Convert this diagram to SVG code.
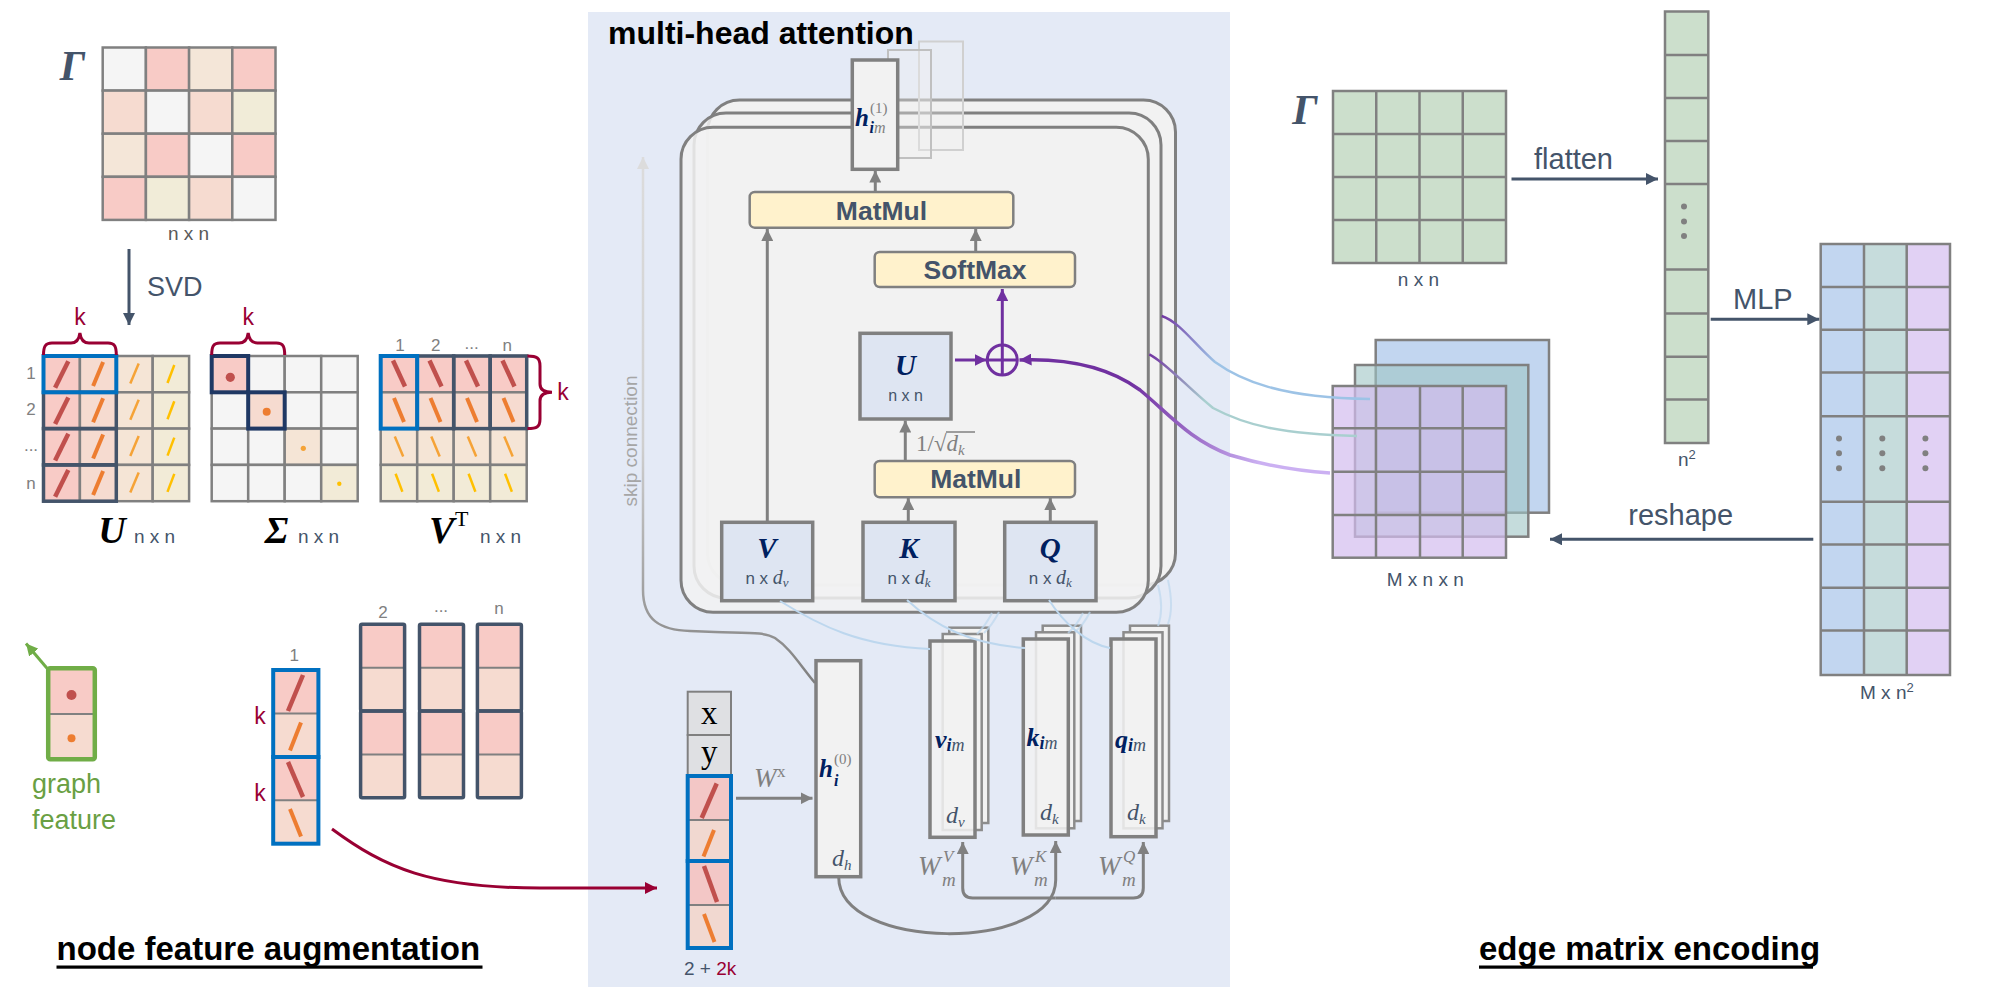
<svg xmlns="http://www.w3.org/2000/svg" width="2000" height="994" viewBox="0 0 2000 994">
<defs>
<style>
.sans{font-family:"Liberation Sans",Arial,sans-serif}
.serif{font-family:"Liberation Serif","Times New Roman",serif}
.grid{stroke:#808080;stroke-width:2.5}
.dim{font-family:"Liberation Sans",Arial,sans-serif;fill:#44546A;font-size:19px}
.idx{font-family:"Liberation Sans",Arial,sans-serif;fill:#808080;font-size:17px;text-anchor:middle}
.kl{font-family:"Liberation Sans",Arial,sans-serif;fill:#990033;font-size:23px;text-anchor:middle}
.brace{fill:none;stroke:#990033;stroke-width:3}
.navy{fill:none;stroke:#44546A;stroke-width:3.5}
.dnavy{fill:none;stroke:#1F3864;stroke-width:4}
.blue{fill:none;stroke:#0070C0;stroke-width:4}
.gbox{fill:#DEE5F2;stroke:#808080;stroke-width:3.5}
.ybox{fill:#FFF2CC;stroke:#808080;stroke-width:2.5}
.ytext{font-family:"Liberation Sans",Arial,sans-serif;font-weight:bold;font-size:26.5px;fill:#44546A;text-anchor:middle}
.arr{fill:none;stroke:#808080;stroke-width:3}
.narr{fill:none;stroke:#44546A;stroke-width:3}
.mb{font-family:"Liberation Serif","Times New Roman",serif;font-style:italic;font-weight:bold;fill:#002060}
.mi{font-family:"Liberation Serif","Times New Roman",serif;font-style:italic;fill:#44546A}
.mg{font-family:"Liberation Serif","Times New Roman",serif;font-style:italic;fill:#808080}
.big{font-family:"Liberation Serif","Times New Roman",serif;font-style:italic;font-weight:bold}
.op{font-family:"Liberation Sans",Arial,sans-serif;fill:#44546A;font-size:29px}
.title{font-family:"Liberation Sans",Arial,sans-serif;font-weight:bold;font-size:33px;fill:#000}
.lb{fill:none;stroke:#BDD7EE;stroke-width:2}
.head{fill:#F2F2F2;stroke:#808080;stroke-width:3}
.vec{fill:#F2F2F2;stroke:#808080;stroke-width:3.5}
.vecb{fill:#F2F2F2;stroke:#8C8C8C;stroke-width:2.5}
</style>
<marker id="mGray" viewBox="0 0 10 10" refX="10" refY="5" markerWidth="12" markerHeight="12" markerUnits="userSpaceOnUse" orient="auto"><path d="M0,0 L10,5 L0,10 z" fill="#808080"/></marker>
<marker id="mNavy" viewBox="0 0 10 10" refX="10" refY="5" markerWidth="12" markerHeight="12" markerUnits="userSpaceOnUse" orient="auto"><path d="M0,0 L10,5 L0,10 z" fill="#44546A"/></marker>
<marker id="mPurple" viewBox="0 0 10 10" refX="10" refY="5" markerWidth="12" markerHeight="12" markerUnits="userSpaceOnUse" orient="auto"><path d="M0,0 L10,5 L0,10 z" fill="#7030A0"/></marker>
<marker id="mRed" viewBox="0 0 10 10" refX="10" refY="5" markerWidth="12" markerHeight="12" markerUnits="userSpaceOnUse" orient="auto"><path d="M0,0 L10,5 L0,10 z" fill="#990033"/></marker>
<marker id="mGreen" viewBox="0 0 10 10" refX="10" refY="5" markerWidth="12" markerHeight="12" markerUnits="userSpaceOnUse" orient="auto"><path d="M0,0 L10,5 L0,10 z" fill="#70AD47"/></marker>
<marker id="mLight" viewBox="0 0 10 10" refX="10" refY="5" markerWidth="12" markerHeight="12" markerUnits="userSpaceOnUse" orient="auto"><path d="M0,0 L10,5 L0,10 z" fill="#DCDCDC"/></marker>
<linearGradient id="gSkip" gradientUnits="userSpaceOnUse" x1="0" y1="683" x2="0" y2="155"><stop offset="0" stop-color="#7F7F7F"/><stop offset="0.2" stop-color="#A6A6A6"/><stop offset="0.45" stop-color="#CFCFCF"/><stop offset="1" stop-color="#DCDCDC"/></linearGradient>
<linearGradient id="gBlue" gradientUnits="userSpaceOnUse" x1="1160" y1="0" x2="1215" y2="0"><stop offset="0" stop-color="#7030A0"/><stop offset="1" stop-color="#9DC3E6"/></linearGradient>
<linearGradient id="gTeal" gradientUnits="userSpaceOnUse" x1="1148" y1="0" x2="1205" y2="0"><stop offset="0" stop-color="#7030A0"/><stop offset="1" stop-color="#A9CFCF"/></linearGradient>
<linearGradient id="gPurp" gradientUnits="userSpaceOnUse" x1="1130" y1="0" x2="1260" y2="0"><stop offset="0" stop-color="#7030A0"/><stop offset="1" stop-color="#CBB0F2"/></linearGradient>
<path id="s1" d="M-6.6,13.3 L6.6,-13.3" stroke="#C0504D" stroke-width="4.5"/>
<path id="s2" d="M-5,12 L5,-12" stroke="#ED7D31" stroke-width="4"/>
<path id="s3" d="M-4.2,10 L4.2,-10" stroke="#F5A337" stroke-width="2.5"/>
<path id="s4" d="M-3.4,9 L3.4,-9" stroke="#FFC000" stroke-width="2.5"/>
<path id="b1" d="M-6,-13 L6,13" stroke="#C0504D" stroke-width="4.5"/>
<path id="b2" d="M-5,-12 L5,12" stroke="#ED7D31" stroke-width="4"/>
<path id="b3" d="M-4.2,-10 L4.2,10" stroke="#F5A337" stroke-width="2.5"/>
<path id="b4" d="M-3.4,-9 L3.4,9" stroke="#FFC000" stroke-width="2.5"/>
</defs>

<rect x="0" y="0" width="2000" height="994" fill="#FFFFFF"/>

<!-- ============ LEFT: node feature augmentation ============ -->
<g id="gamma-left">
<text x="72.5" y="80" class="big" font-size="42" fill="#44546A" text-anchor="middle">Γ</text>
<g class="grid">
<rect x="102.7" y="47.5" width="43.2" height="43.1" fill="#F5F5F5"/><rect x="145.9" y="47.5" width="43.2" height="43.1" fill="#F8CBC6"/><rect x="189.1" y="47.5" width="43.2" height="43.1" fill="#F4E6D8"/><rect x="232.3" y="47.5" width="43.2" height="43.1" fill="#F8CBC6"/>
<rect x="102.7" y="90.6" width="43.2" height="43.1" fill="#F6DBD0"/><rect x="145.9" y="90.6" width="43.2" height="43.1" fill="#F5F5F5"/><rect x="189.1" y="90.6" width="43.2" height="43.1" fill="#F6DBD0"/><rect x="232.3" y="90.6" width="43.2" height="43.1" fill="#F1ECD8"/>
<rect x="102.7" y="133.7" width="43.2" height="43.1" fill="#F4E6D8"/><rect x="145.9" y="133.7" width="43.2" height="43.1" fill="#F8CBC6"/><rect x="189.1" y="133.7" width="43.2" height="43.1" fill="#F5F5F5"/><rect x="232.3" y="133.7" width="43.2" height="43.1" fill="#F8CBC6"/>
<rect x="102.7" y="176.8" width="43.2" height="43.1" fill="#F8CBC6"/><rect x="145.9" y="176.8" width="43.2" height="43.1" fill="#F1ECD8"/><rect x="189.1" y="176.8" width="43.2" height="43.1" fill="#F6DBD0"/><rect x="232.3" y="176.8" width="43.2" height="43.1" fill="#F5F5F5"/>
</g>
<text x="188.5" y="240" class="dim" text-anchor="middle" style="fill:#595959">n x n</text>
</g>

<g id="svd">
<text x="147" y="296" class="sans" font-size="27" fill="#44546A">SVD</text>
</g>

<g id="U-matrix">
<g class="grid">
<rect x="43.5" y="356" width="36.4" height="36.3" fill="#F8CBC6"/><rect x="79.9" y="356" width="36.4" height="36.3" fill="#F6DBD0"/><rect x="116.3" y="356" width="36.4" height="36.3" fill="#F5E5D6"/><rect x="152.7" y="356" width="36.4" height="36.3" fill="#F2EBD7"/>
<rect x="43.5" y="392.3" width="36.4" height="36.3" fill="#F8CBC6"/><rect x="79.9" y="392.3" width="36.4" height="36.3" fill="#F6DBD0"/><rect x="116.3" y="392.3" width="36.4" height="36.3" fill="#F5E5D6"/><rect x="152.7" y="392.3" width="36.4" height="36.3" fill="#F2EBD7"/>
<rect x="43.5" y="428.6" width="36.4" height="36.3" fill="#F8CBC6"/><rect x="79.9" y="428.6" width="36.4" height="36.3" fill="#F6DBD0"/><rect x="116.3" y="428.6" width="36.4" height="36.3" fill="#F5E5D6"/><rect x="152.7" y="428.6" width="36.4" height="36.3" fill="#F2EBD7"/>
<rect x="43.5" y="464.9" width="36.4" height="36.3" fill="#F8CBC6"/><rect x="79.9" y="464.9" width="36.4" height="36.3" fill="#F6DBD0"/><rect x="116.3" y="464.9" width="36.4" height="36.3" fill="#F5E5D6"/><rect x="152.7" y="464.9" width="36.4" height="36.3" fill="#F2EBD7"/>
</g>
<use href="#s1" x="61.7" y="374.5"/><use href="#s2" x="98.1" y="374"/><use href="#s3" x="134.5" y="373.5"/><use href="#s4" x="170.9" y="374"/>
<use href="#s1" x="61.7" y="410.8"/><use href="#s2" x="98.1" y="410.3"/><use href="#s3" x="134.5" y="409.8"/><use href="#s4" x="170.9" y="410.3"/>
<use href="#s1" x="61.7" y="447.1"/><use href="#s2" x="98.1" y="446.6"/><use href="#s3" x="134.5" y="446.1"/><use href="#s4" x="170.9" y="446.6"/>
<use href="#s1" x="61.7" y="483.4"/><use href="#s2" x="98.1" y="482.9"/><use href="#s3" x="134.5" y="482.4"/><use href="#s4" x="170.9" y="482.9"/>
<rect x="43.5" y="392.3" width="72.8" height="36.3" class="navy"/>
<rect x="43.5" y="428.6" width="72.8" height="36.3" class="navy"/>
<rect x="43.5" y="464.9" width="72.8" height="36.3" class="navy"/>
<rect x="43.5" y="356" width="72.8" height="36.3" class="blue"/>
<text x="31" y="379" class="idx">1</text>
<text x="31" y="415" class="idx">2</text>
<text x="31" y="451" class="idx">...</text>
<text x="31" y="489" class="idx">n</text>
<path class="brace" d="M43.5,355 C43.5,347 45,343 52,343 L71,343 C76,343 79,340 79.9,333 C80.8,340 84,343 89,343 L108,343 C115,343 116.3,347 116.3,355"/>
<text x="79.9" y="325" class="kl">k</text>
<text x="112" y="543" class="big" font-size="38" fill="#000" text-anchor="middle">U</text>
<text x="134" y="543" class="dim">n x n</text>
</g>

<g id="Sigma-matrix">
<g class="grid">
<rect x="211.7" y="356" width="36.5" height="36.3" fill="#F8CBC6"/><rect x="248.2" y="356" width="36.5" height="36.3" fill="#F5F5F5"/><rect x="284.7" y="356" width="36.5" height="36.3" fill="#F5F5F5"/><rect x="321.2" y="356" width="36.5" height="36.3" fill="#F5F5F5"/>
<rect x="211.7" y="392.3" width="36.5" height="36.3" fill="#F5F5F5"/><rect x="248.2" y="392.3" width="36.5" height="36.3" fill="#F6DBD0"/><rect x="284.7" y="392.3" width="36.5" height="36.3" fill="#F5F5F5"/><rect x="321.2" y="392.3" width="36.5" height="36.3" fill="#F5F5F5"/>
<rect x="211.7" y="428.6" width="36.5" height="36.3" fill="#F5F5F5"/><rect x="248.2" y="428.6" width="36.5" height="36.3" fill="#F5F5F5"/><rect x="284.7" y="428.6" width="36.5" height="36.3" fill="#F5E5D6"/><rect x="321.2" y="428.6" width="36.5" height="36.3" fill="#F5F5F5"/>
<rect x="211.7" y="464.9" width="36.5" height="36.3" fill="#F5F5F5"/><rect x="248.2" y="464.9" width="36.5" height="36.3" fill="#F5F5F5"/><rect x="284.7" y="464.9" width="36.5" height="36.3" fill="#F5F5F5"/><rect x="321.2" y="464.9" width="36.5" height="36.3" fill="#F2EBD7"/>
</g>
<circle cx="230.3" cy="377.3" r="4.6" fill="#C0504D"/>
<circle cx="266.7" cy="411.7" r="4" fill="#ED7D31"/>
<circle cx="303.3" cy="448.3" r="2.6" fill="#F5A337"/>
<circle cx="339.3" cy="483.7" r="2.2" fill="#FFC000"/>
<rect x="211.7" y="356" width="36.5" height="36.3" class="dnavy"/>
<rect x="248.2" y="392.3" width="36.5" height="36.3" class="dnavy"/>
<path class="brace" d="M211.7,355 C211.7,347 213,343 220,343 L239,343 C244,343 247.3,340 248.2,333 C249.1,340 252.4,343 257.4,343 L276.4,343 C283.4,343 284.7,347 284.7,355"/>
<text x="248.2" y="325" class="kl">k</text>
<text x="276.5" y="543" class="big" font-size="38" fill="#000" text-anchor="middle">Σ</text>
<text x="298" y="543" class="dim">n x n</text>
</g>

<g id="VT-matrix">
<g class="grid">
<rect x="380.7" y="356" width="36.5" height="36.3" fill="#F8CBC6"/><rect x="417.2" y="356" width="36.5" height="36.3" fill="#F8CBC6"/><rect x="453.7" y="356" width="36.5" height="36.3" fill="#F8CBC6"/><rect x="490.2" y="356" width="36.5" height="36.3" fill="#F8CBC6"/>
<rect x="380.7" y="392.3" width="36.5" height="36.3" fill="#F6DBD0"/><rect x="417.2" y="392.3" width="36.5" height="36.3" fill="#F6DBD0"/><rect x="453.7" y="392.3" width="36.5" height="36.3" fill="#F6DBD0"/><rect x="490.2" y="392.3" width="36.5" height="36.3" fill="#F6DBD0"/>
<rect x="380.7" y="428.6" width="36.5" height="36.3" fill="#F5E5D6"/><rect x="417.2" y="428.6" width="36.5" height="36.3" fill="#F5E5D6"/><rect x="453.7" y="428.6" width="36.5" height="36.3" fill="#F5E5D6"/><rect x="490.2" y="428.6" width="36.5" height="36.3" fill="#F5E5D6"/>
<rect x="380.7" y="464.9" width="36.5" height="36.3" fill="#F2EBD7"/><rect x="417.2" y="464.9" width="36.5" height="36.3" fill="#F2EBD7"/><rect x="453.7" y="464.9" width="36.5" height="36.3" fill="#F2EBD7"/><rect x="490.2" y="464.9" width="36.5" height="36.3" fill="#F2EBD7"/>
</g>
<use href="#b1" x="399" y="373.5"/><use href="#b1" x="435.5" y="373.5"/><use href="#b1" x="472" y="373.5"/><use href="#b1" x="508.5" y="373.5"/>
<use href="#b2" x="399" y="410"/><use href="#b2" x="435.5" y="410"/><use href="#b2" x="472" y="410"/><use href="#b2" x="508.5" y="410"/>
<use href="#b3" x="399" y="446.5"/><use href="#b3" x="435.5" y="446.5"/><use href="#b3" x="472" y="446.5"/><use href="#b3" x="508.5" y="446.5"/>
<use href="#b4" x="399" y="482.8"/><use href="#b4" x="435.5" y="482.8"/><use href="#b4" x="472" y="482.8"/><use href="#b4" x="508.5" y="482.8"/>
<rect x="417.2" y="356" width="36.5" height="72.6" class="navy"/>
<rect x="453.7" y="356" width="36.5" height="72.6" class="navy"/>
<rect x="490.2" y="356" width="36.5" height="72.6" class="navy"/>
<rect x="380.7" y="356" width="36.5" height="72.6" class="blue"/>
<text x="400" y="351" class="idx">1</text>
<text x="435.7" y="351" class="idx">2</text>
<text x="471.7" y="349" class="idx">...</text>
<text x="507.3" y="351" class="idx">n</text>
<path class="brace" d="M527.5,356 C537,356 540,358 540,366 L540,384 C540,389 543,392.3 552,392.3 C543,392.3 540,396 540,401 L540,419 C540,427 537,428.6 527.5,428.6"/>
<text x="563" y="400" class="kl">k</text>
<text class="big" font-size="38" fill="#000"><tspan x="429" y="543">V</tspan><tspan x="455" y="526" font-size="22" font-style="normal" font-weight="normal">T</tspan></text>
<text x="480" y="543" class="dim">n x n</text>
</g>

<g id="graph-feature">
<rect x="48.2" y="668.3" width="46.6" height="45.7" fill="#F8CBC6"/>
<rect x="48.2" y="714" width="46.6" height="45.3" fill="#F6DBD0"/>
<line x1="48.2" y1="714" x2="94.8" y2="714" stroke="#808080" stroke-width="2"/>
<rect x="48.2" y="668.3" width="46.6" height="91" rx="2" fill="none" stroke="#70AD47" stroke-width="4.5"/>
<circle cx="71.5" cy="695" r="5" fill="#C0504D"/>
<circle cx="71.5" cy="738.3" r="4" fill="#ED7D31"/>
<text x="32" y="793" class="sans" font-size="27" fill="#6A9F43">graph</text>
<text x="32" y="829" class="sans" font-size="27" fill="#6A9F43">feature</text>
</g>

<g id="node-col-1">
<rect x="273.2" y="670" width="45.2" height="43.5" fill="#F8CBC6"/>
<rect x="273.2" y="713.5" width="45.2" height="43.5" fill="#F6DBD0"/>
<rect x="273.2" y="757" width="45.2" height="43.3" fill="#F8CBC6"/>
<rect x="273.2" y="800.3" width="45.2" height="43.4" fill="#F6DBD0"/>
<line x1="273.2" y1="713.5" x2="318.4" y2="713.5" stroke="#808080" stroke-width="2"/>
<line x1="273.2" y1="800.3" x2="318.4" y2="800.3" stroke="#808080" stroke-width="2"/>
<path d="M288,711 L303,675" stroke="#C0504D" stroke-width="4.5"/>
<path d="M290,750.5 L301,722.5" stroke="#ED7D31" stroke-width="4"/>
<path d="M288,762 L303,797" stroke="#C0504D" stroke-width="4.5"/>
<path d="M290,809 L301,836.5" stroke="#ED7D31" stroke-width="4"/>
<rect x="273.2" y="670" width="45.2" height="87" class="blue"/>
<rect x="273.2" y="757" width="45.2" height="86.7" class="blue"/>
<text x="294.3" y="661" class="idx">1</text>
<text x="260" y="724" class="kl">k</text>
<text x="260" y="801" class="kl">k</text>
</g>

<g id="node-cols-2-n">
<g fill="#F8CBC6"><rect x="360.6" y="624.3" width="44" height="43.4"/><rect x="419.5" y="624.3" width="44" height="43.4"/><rect x="477.4" y="624.3" width="44" height="43.4"/>
<rect x="360.6" y="711" width="44" height="43.4"/><rect x="419.5" y="711" width="44" height="43.4"/><rect x="477.4" y="711" width="44" height="43.4"/></g>
<g fill="#F6DBD0"><rect x="360.6" y="667.7" width="44" height="43.3"/><rect x="419.5" y="667.7" width="44" height="43.3"/><rect x="477.4" y="667.7" width="44" height="43.3"/>
<rect x="360.6" y="754.4" width="44" height="43.3"/><rect x="419.5" y="754.4" width="44" height="43.3"/><rect x="477.4" y="754.4" width="44" height="43.3"/></g>
<g stroke="#808080" stroke-width="2">
<line x1="360.6" y1="667.7" x2="404.6" y2="667.7"/><line x1="419.5" y1="667.7" x2="463.5" y2="667.7"/><line x1="477.4" y1="667.7" x2="521.4" y2="667.7"/>
<line x1="360.6" y1="754.4" x2="404.6" y2="754.4"/><line x1="419.5" y1="754.4" x2="463.5" y2="754.4"/><line x1="477.4" y1="754.4" x2="521.4" y2="754.4"/>
</g>
<g class="navy">
<rect x="360.6" y="624.3" width="44" height="86.7" rx="1.5"/><rect x="360.6" y="711" width="44" height="86.7" rx="1.5"/>
<rect x="419.5" y="624.3" width="44" height="86.7" rx="1.5"/><rect x="419.5" y="711" width="44" height="86.7" rx="1.5"/>
<rect x="477.4" y="624.3" width="44" height="86.7" rx="1.5"/><rect x="477.4" y="711" width="44" height="86.7" rx="1.5"/>
</g>
<text x="383" y="618" class="idx">2</text>
<text x="441" y="612" class="idx">...</text>
<text x="499" y="614" class="idx">n</text>
</g>

<text x="56.5" y="960" class="title">node feature augmentation</text>
<rect x="56.5" y="965.5" width="426" height="3.2" fill="#000"/>

<!-- ============ MIDDLE: multi-head attention ============ -->
<rect id="mha-bg" x="588" y="12" width="642" height="975" fill="#E4EAF6"/>

<g id="skip-connection">
<path d="M815,683 C800,665 790,648 775,638 C765,632 750,633 715,632 L690,631 C660,630 643,620 643,590 L643,157" fill="none" stroke="url(#gSkip)" stroke-width="2.5" marker-end="url(#mLight)"/>
<text transform="translate(637,441) rotate(-90)" class="sans" font-size="19" fill="#A6A6A6" text-anchor="middle">skip connection</text>
</g>

<g id="heads">
<rect x="707.5" y="100" width="468" height="485" rx="32" class="head"/>
<rect x="694" y="113" width="467" height="485" rx="32" class="head" fill-opacity="0.85"/>
<rect x="681" y="127.3" width="467.3" height="485" rx="32" class="head" fill-opacity="0.85" stroke-width="3.5"/>
</g>

<g id="h1-output">
<rect x="919" y="41.5" width="44" height="108.5" fill="#F2F2F2" fill-opacity="0.35" stroke="#D0D0D0" stroke-width="2"/>
<rect x="888" y="50" width="43" height="108" fill="#F2F2F2" fill-opacity="0.35" stroke="#C0C0C0" stroke-width="2"/>
<rect x="852.3" y="60" width="45.4" height="109.3" class="vec"/>
<text class="mb"><tspan x="855" y="126" font-size="25">h</tspan><tspan x="870" y="113" font-size="15" font-style="normal" font-weight="normal" fill="#808080">(1)</tspan><tspan x="869.5" y="133" font-size="16">i</tspan><tspan font-size="16" font-weight="normal" fill="#808080">m</tspan></text>
</g>

<g id="matmul-top">
<rect x="749.7" y="192" width="263.6" height="35.7" rx="5" class="ybox"/>
<text x="881.5" y="219.5" class="ytext">MatMul</text>
</g>
<g id="softmax">
<rect x="874.7" y="252" width="200.3" height="35" rx="5" class="ybox"/>
<text x="975" y="278.7" class="ytext">SoftMax</text>
</g>
<g id="U-attn">
<rect x="860" y="333.3" width="91" height="85.7" class="gbox"/>
<text x="905.5" y="375" class="mb" font-size="29" text-anchor="middle">U</text>
<text x="905.5" y="400.5" class="sans" font-size="16" fill="#44546A" text-anchor="middle">n x n</text>
</g>
<g id="add-op">
<circle cx="1002.3" cy="360" r="15" fill="none" stroke="#7030A0" stroke-width="3"/>
<line x1="987.3" y1="360" x2="1017.3" y2="360" stroke="#7030A0" stroke-width="3"/>
<line x1="1002.3" y1="345" x2="1002.3" y2="375" stroke="#7030A0" stroke-width="3"/>
</g>
<g id="matmul-low">
<rect x="874.7" y="461" width="200.3" height="36.3" rx="5" class="ybox"/>
<text x="975.8" y="488.3" class="ytext">MatMul</text>
</g>
<g id="scale-label">
<text x="916" y="451" class="serif" font-size="23" fill="#808080">1/√<tspan font-style="italic">d</tspan><tspan font-style="italic" font-size="15" dy="4">k</tspan></text>
<line x1="946" y1="432" x2="975" y2="432" stroke="#808080" stroke-width="1.5"/>
</g>
<g id="V-box">
<rect x="721.7" y="522.3" width="91" height="78.4" class="gbox"/>
<text x="767" y="558" class="mb" font-size="29" text-anchor="middle">V</text>
<text x="767" y="584" class="sans" font-size="17" fill="#44546A" text-anchor="middle">n x <tspan class="mi" font-size="20">d</tspan><tspan class="mi" font-size="13" dy="3">v</tspan></text>
</g>
<g id="K-box">
<rect x="863" y="522.3" width="92" height="78.4" class="gbox"/>
<text x="909" y="558" class="mb" font-size="29" text-anchor="middle">K</text>
<text x="909" y="584" class="sans" font-size="17" fill="#44546A" text-anchor="middle">n x <tspan class="mi" font-size="20">d</tspan><tspan class="mi" font-size="13" dy="3">k</tspan></text>
</g>
<g id="Q-box">
<rect x="1004.7" y="522.3" width="91.3" height="78.4" class="gbox"/>
<text x="1050.3" y="558" class="mb" font-size="29" text-anchor="middle">Q</text>
<text x="1050.3" y="584" class="sans" font-size="17" fill="#44546A" text-anchor="middle">n x <tspan class="mi" font-size="20">d</tspan><tspan class="mi" font-size="13" dy="3">k</tspan></text>
</g>

<g id="input-vector">
<rect x="687.7" y="691.7" width="43.3" height="43.3" fill="#DFE0E3" stroke="#808080" stroke-width="2"/>
<rect x="687.7" y="735" width="43.3" height="41" fill="#DFE0E3" stroke="#808080" stroke-width="2"/>
<rect x="687.7" y="776" width="43.3" height="44" fill="#F3C7C6"/>
<rect x="687.7" y="820" width="43.3" height="41" fill="#F1D8D0"/>
<rect x="687.7" y="861" width="43.3" height="44" fill="#F3C7C6"/>
<rect x="687.7" y="905" width="43.3" height="43" fill="#F1D8D0"/>
<line x1="687.7" y1="820" x2="731" y2="820" stroke="#808080" stroke-width="2"/>
<line x1="687.7" y1="905" x2="731" y2="905" stroke="#808080" stroke-width="2"/>
<path d="M701.7,818 L716.7,783.5" stroke="#C0504D" stroke-width="4.5"/>
<path d="M703.5,856.5 L714,830" stroke="#ED7D31" stroke-width="4"/>
<path d="M704,866 L717,902" stroke="#C0504D" stroke-width="4.5"/>
<path d="M704,914 L714.5,942" stroke="#ED7D31" stroke-width="4"/>
<rect x="687.7" y="776" width="43.3" height="85" class="blue"/>
<rect x="687.7" y="861" width="43.3" height="87" class="blue"/>
<text x="709.3" y="724" class="serif" font-size="33" fill="#000" text-anchor="middle">x</text>
<text x="709.3" y="763" class="serif" font-size="33" fill="#000" text-anchor="middle">y</text>
<text x="684" y="975" class="sans" font-size="19" fill="#44546A">2 + <tspan fill="#990033">2k</tspan></text>
</g>

<g id="h0-box">
<rect x="816" y="660.7" width="44.7" height="216" class="vec"/>
<text class="mb"><tspan x="819" y="777" font-size="25">h</tspan><tspan x="834" y="764" font-size="15" font-style="normal" font-weight="normal" fill="#808080">(0)</tspan><tspan x="834" y="786" font-size="16">i</tspan></text>
<text x="832" y="866" class="mi" font-size="24">d<tspan font-size="15" dy="4">h</tspan></text>
</g>

<g id="v-stack">
<rect x="949.3" y="627.7" width="39" height="195.3" class="vecb"/>
<rect x="942.7" y="634" width="39" height="196" class="vecb"/>
<rect x="930" y="641" width="45" height="196.3" class="vec" fill-opacity="0.85"/>
<text x="935" y="748" class="mb" font-size="26">v<tspan dy="3" font-size="18">i</tspan><tspan font-size="18" font-weight="normal" fill="#44546A">m</tspan></text>
<text x="946" y="823" class="mi" font-size="24">d<tspan font-size="15" dy="4">v</tspan></text>
</g>
<g id="k-stack">
<rect x="1042.7" y="625.7" width="38.3" height="195.3" class="vecb"/>
<rect x="1036" y="632.3" width="38.3" height="196" class="vecb"/>
<rect x="1023.3" y="639" width="45" height="196" class="vec" fill-opacity="0.85"/>
<text x="1026.5" y="746" class="mb" font-size="26">k<tspan dy="3" font-size="18">i</tspan><tspan font-size="18" font-weight="normal" fill="#44546A">m</tspan></text>
<text x="1040" y="820" class="mi" font-size="24">d<tspan font-size="15" dy="4">k</tspan></text>
</g>
<g id="q-stack">
<rect x="1130" y="625.7" width="39" height="195.3" class="vecb"/>
<rect x="1123.5" y="632.3" width="39" height="196" class="vecb"/>
<rect x="1111" y="639" width="45" height="197.7" class="vec" fill-opacity="0.85"/>
<text x="1115" y="748" class="mb" font-size="26">q<tspan dy="3" font-size="18">i</tspan><tspan font-size="18" font-weight="normal" fill="#44546A">m</tspan></text>
<text x="1127" y="820" class="mi" font-size="24">d<tspan font-size="15" dy="4">k</tspan></text>
</g>

<g id="weight-labels">
<text class="mg"><tspan x="918" y="875" font-size="27">W</tspan><tspan x="943" y="862" font-size="17">V</tspan><tspan x="942" y="886" font-size="19">m</tspan></text>
<text class="mg"><tspan x="1010" y="875" font-size="27">W</tspan><tspan x="1035" y="862" font-size="17">K</tspan><tspan x="1034" y="886" font-size="19">m</tspan></text>
<text class="mg"><tspan x="1098" y="875" font-size="27">W</tspan><tspan x="1123" y="862" font-size="17">Q</tspan><tspan x="1122" y="886" font-size="19">m</tspan></text>
<text class="mg"><tspan x="754" y="787" font-size="27">W</tspan><tspan x="777" y="777" font-size="17" font-style="normal">x</tspan></text>
</g>

<!-- ============ RIGHT: edge matrix encoding ============ -->
<g id="gamma-right">
<text x="1305" y="124" class="big" font-size="42" fill="#44546A" text-anchor="middle">Γ</text>
<rect x="1333" y="91" width="173" height="172" fill="#CCDFCC"/>
<g class="grid" fill="none">
<rect x="1333" y="91" width="173" height="172"/>
<line x1="1376.25" y1="91" x2="1376.25" y2="263"/><line x1="1419.5" y1="91" x2="1419.5" y2="263"/><line x1="1462.75" y1="91" x2="1462.75" y2="263"/>
<line x1="1333" y1="134" x2="1506" y2="134"/><line x1="1333" y1="177" x2="1506" y2="177"/><line x1="1333" y1="220" x2="1506" y2="220"/>
</g>
<text x="1418.4" y="285.6" class="dim" text-anchor="middle">n x n</text>
</g>

<g id="flat-vector">
<rect x="1665" y="11.5" width="43.3" height="431.5" fill="#CCDFCC"/>
<g class="grid" fill="none">
<rect x="1665" y="11.5" width="43.3" height="431.5"/>
<line x1="1665" y1="55" x2="1708.3" y2="55"/><line x1="1665" y1="98" x2="1708.3" y2="98"/><line x1="1665" y1="141" x2="1708.3" y2="141"/><line x1="1665" y1="184" x2="1708.3" y2="184"/>
<line x1="1665" y1="269.5" x2="1708.3" y2="269.5"/><line x1="1665" y1="313.6" x2="1708.3" y2="313.6"/><line x1="1665" y1="356.7" x2="1708.3" y2="356.7"/><line x1="1665" y1="399.5" x2="1708.3" y2="399.5"/>
</g>
<g fill="#808080"><circle cx="1684" cy="206.6" r="3"/><circle cx="1684" cy="221.5" r="3"/><circle cx="1684" cy="236" r="3"/></g>
<text x="1678" y="465.5" class="dim" font-size="18">n<tspan font-size="13" dy="-7">2</tspan></text>
<text x="1534" y="169" class="op">flatten</text>
</g>

<g id="mlp-output">
<rect x="1820.7" y="244" width="43.3" height="431" fill="#C2D6F0"/>
<rect x="1864" y="244" width="42.7" height="431" fill="#C6DCDC"/>
<rect x="1906.7" y="244" width="43.3" height="431" fill="#E1D1F4"/>
<g class="grid" fill="none">
<rect x="1820.7" y="244" width="129.3" height="431"/>
<line x1="1864" y1="244" x2="1864" y2="675"/><line x1="1906.7" y1="244" x2="1906.7" y2="675"/>
<line x1="1820.7" y1="287" x2="1950" y2="287"/><line x1="1820.7" y1="329.7" x2="1950" y2="329.7"/><line x1="1820.7" y1="372.4" x2="1950" y2="372.4"/><line x1="1820.7" y1="416.2" x2="1950" y2="416.2"/>
<line x1="1820.7" y1="501.8" x2="1950" y2="501.8"/><line x1="1820.7" y1="544.6" x2="1950" y2="544.6"/><line x1="1820.7" y1="587.7" x2="1950" y2="587.7"/><line x1="1820.7" y1="630.6" x2="1950" y2="630.6"/>
</g>
<g fill="#808080">
<circle cx="1839" cy="438.5" r="3"/><circle cx="1839" cy="453.3" r="3"/><circle cx="1839" cy="468.2" r="3"/>
<circle cx="1882.3" cy="438.5" r="3"/><circle cx="1882.3" cy="453.3" r="3"/><circle cx="1882.3" cy="468.2" r="3"/>
<circle cx="1925.4" cy="438.5" r="3"/><circle cx="1925.4" cy="453.3" r="3"/><circle cx="1925.4" cy="468.2" r="3"/>
</g>
<text x="1860" y="699" class="dim" font-size="18">M x n<tspan font-size="13" dy="-7">2</tspan></text>
<text x="1733" y="308.5" class="op">MLP</text>
</g>

<g id="edge-stack">
<rect x="1375.7" y="340" width="173.3" height="172.7" fill="#C2D6F0" stroke="#808080" stroke-width="2.5"/>
<rect x="1355" y="365" width="173.3" height="171.7" fill="rgb(158,197,197)" fill-opacity="0.6" stroke="#808080" stroke-width="2.5"/>
<rect x="1332.7" y="386" width="173.3" height="171.7" fill="rgb(211,188,238)" fill-opacity="0.7" stroke="#808080" stroke-width="2.5"/>
<g class="grid">
<line x1="1376" y1="386" x2="1376" y2="557.7"/><line x1="1420" y1="386" x2="1420" y2="557.7"/><line x1="1462.7" y1="386" x2="1462.7" y2="557.7"/>
<line x1="1332.7" y1="428.3" x2="1506" y2="428.3"/><line x1="1332.7" y1="471.7" x2="1506" y2="471.7"/><line x1="1332.7" y1="515" x2="1506" y2="515"/>
</g>
<text x="1386.7" y="586" class="dim">M x n x n</text>
<text x="1628.3" y="525" class="op">reshape</text>
</g>

<text x="1479" y="960" class="title">edge matrix encoding</text>
<rect x="1479" y="965.5" width="334" height="3.2" fill="#000"/>

<!-- ============ CONNECTORS ============ -->
<g id="connectors">
<line x1="129" y1="249" x2="129" y2="325" class="narr" marker-end="url(#mNavy)"/>
<line x1="48.5" y1="670" x2="26" y2="643.5" stroke="#70AD47" stroke-width="3" marker-end="url(#mGreen)"/>
<path d="M332,829 C385,868 430,888 540,888 L657,888" fill="none" stroke="#990033" stroke-width="3" marker-end="url(#mRed)"/>

<line x1="875.3" y1="192" x2="875.3" y2="170.5" class="arr" marker-end="url(#mGray)"/>
<line x1="767.3" y1="522.3" x2="767.3" y2="229" class="arr" marker-end="url(#mGray)"/>
<line x1="975.7" y1="252" x2="975.7" y2="229" class="arr" marker-end="url(#mGray)"/>
<line x1="1002.3" y1="345" x2="1002.3" y2="289" stroke="#7030A0" stroke-width="3" marker-end="url(#mPurple)"/>
<line x1="955" y1="360" x2="986.5" y2="360" stroke="#7030A0" stroke-width="3" marker-end="url(#mPurple)"/>
<line x1="905.3" y1="461" x2="905.3" y2="420.5" class="arr" marker-end="url(#mGray)"/>
<line x1="908.3" y1="522.3" x2="908.3" y2="498" class="arr" marker-end="url(#mGray)"/>
<line x1="1050.3" y1="522.3" x2="1050.3" y2="498" class="arr" marker-end="url(#mGray)"/>
<line x1="736" y1="798.3" x2="812.5" y2="798.3" class="arr" marker-end="url(#mGray)"/>

<path d="M838.7,877 C838.7,952 1055.7,952 1055.7,880 L1055.7,841" class="arr" marker-end="url(#mGray)"/>
<path d="M1055.7,898 L972.7,898 Q962.7,898 962.7,888 L962.7,842" class="arr" marker-end="url(#mGray)"/>
<path d="M1055.7,898 L1133.3,898 Q1143.3,898 1143.3,888 L1143.3,842" class="arr" marker-end="url(#mGray)"/>

<path d="M780,601 C820,626 860,646 930,649" class="lb"/>
<path d="M907,600 C935,626 970,644 1025,648" class="lb"/>
<path d="M1049,600 C1063,622 1085,643 1110,648" class="lb"/>
<path d="M992,613 C988,621 983,628 977,634" class="lb" opacity="0.7"/>
<path d="M999,612 C995,620 990,627 984,633" class="lb" opacity="0.7"/>
<path d="M1083,613 C1079,621 1074,628 1068,633" class="lb" opacity="0.7"/>
<path d="M1090,612 C1086,620 1081,627 1075,632" class="lb" opacity="0.7"/>
<path d="M1158,585 C1162,600 1162,615 1158,626" class="lb" opacity="0.7"/>
<path d="M1168,580 C1172,598 1172,613 1168,624" class="lb" opacity="0.7"/>

<path d="M1161.7,316 C1180,322 1195,345 1215,362 C1240,380 1280,398 1370,399" fill="none" stroke="url(#gBlue)" stroke-width="2.5"/>
<path d="M1149.3,354.3 C1165,362 1185,385 1213,408 C1245,425 1280,434 1357,436" fill="none" stroke="url(#gTeal)" stroke-width="2.5"/>
<path d="M1330,473 C1300,471 1270,467 1230,455 C1190,440 1170,415 1140,390 C1110,368 1070,358 1019.5,360" fill="none" stroke="url(#gPurp)" stroke-width="3.5" marker-end="url(#mPurple)"/>

<line x1="1511.5" y1="179" x2="1658" y2="179" class="narr" marker-end="url(#mNavy)"/>
<line x1="1710.7" y1="319.3" x2="1819.3" y2="319.3" class="narr" marker-end="url(#mNavy)"/>
<line x1="1813.3" y1="539.3" x2="1550" y2="539.3" class="narr" marker-end="url(#mNavy)"/>
</g>

<text x="608" y="44" class="sans" font-size="32" font-weight="bold" fill="#000">multi-head attention</text>
</svg>
